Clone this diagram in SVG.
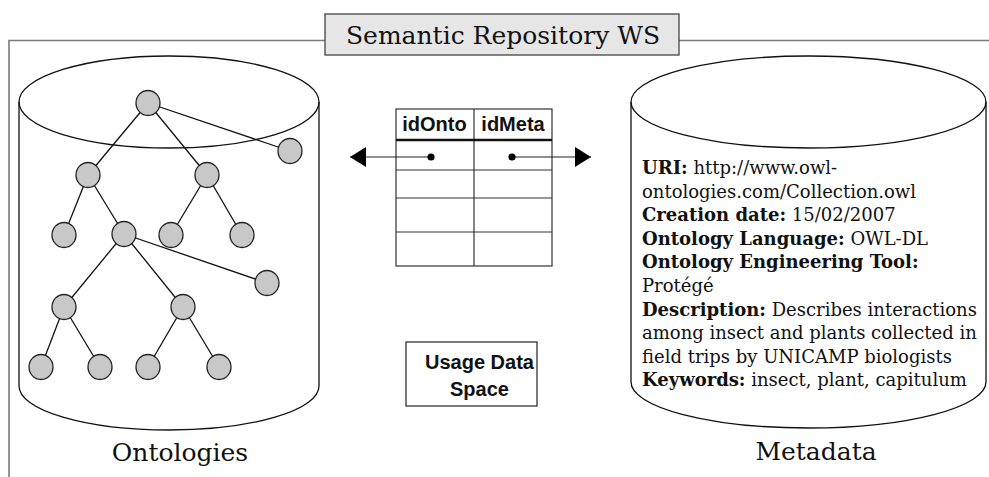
<svg xmlns="http://www.w3.org/2000/svg" width="989" height="477" viewBox="0 0 989 477">
  <style>
    .frame { fill: none; stroke: #7a7a7a; stroke-width: 1.6; }
    .cyl { fill: none; stroke: #111; stroke-width: 1.3; }
    .edge { stroke: #111; stroke-width: 1.3; }
    .tn { fill: #c8c8c8; stroke: #222; stroke-width: 1.3; }
    .serif { font-family: "DejaVu Serif", "Liberation Serif", serif; fill: #111; }
    .meta { font-family: "DejaVu Serif", "Liberation Serif", serif; font-size: 18px; fill: #111; }
    .meta .b { font-weight: bold; }
    .sans { font-family: "Liberation Sans", Arial, sans-serif; font-weight: bold; fill: #111; }
    .grid { stroke: #333; stroke-width: 1.2; }
    .link { stroke: #222; stroke-width: 1.2; }
  </style>
  <defs>
    <marker id="arrow" viewBox="0 0 16 20" refX="16" refY="10" markerWidth="16" markerHeight="20" markerUnits="userSpaceOnUse" orient="auto">
      <path d="M0,0 L16,10 L0,20 Z" fill="#000"/>
    </marker>
  </defs>

  <rect width="989" height="477" fill="#fff"/>

  <!-- outer boundary of the web service -->
  <g id="frame">
    <polyline class="frame" points="325,40.5 9,40.5 9,477"/>
    <line class="frame" x1="679" y1="40.5" x2="989" y2="40.5"/>
  </g>

  <!-- title tab -->
  <g id="title">
    <rect x="325" y="14" width="354" height="41" fill="#e6e6e6" stroke="#444" stroke-width="1.3"/>
    <text class="serif" x="503" y="43.5" font-size="25" text-anchor="middle">Semantic Repository WS</text>
  </g>

  <!-- ontology store -->
  <g id="ontologies">
    <ellipse class="cyl" cx="169" cy="102" rx="150" ry="46" fill="#fff"/>
    <path class="cyl" d="M19,102 V386 A150,44 0 0 0 319,386 V102"/>
    <text class="serif" x="180" y="461" font-size="25" text-anchor="middle">Ontologies</text>
    <g id="tree">
      <g class="edge">
        <line x1="148" y1="103" x2="290" y2="151"/>
        <line x1="148" y1="103" x2="88" y2="175"/>
        <line x1="148" y1="103" x2="207" y2="175"/>
        <line x1="88" y1="175" x2="64" y2="235"/>
        <line x1="88" y1="175" x2="124" y2="234"/>
        <line x1="207" y1="175" x2="171" y2="235"/>
        <line x1="207" y1="175" x2="242" y2="235"/>
        <line x1="124" y1="234" x2="267" y2="283"/>
        <line x1="124" y1="234" x2="64" y2="307"/>
        <line x1="124" y1="234" x2="183" y2="307"/>
        <line x1="64" y1="307" x2="41" y2="367"/>
        <line x1="64" y1="307" x2="100" y2="367"/>
        <line x1="183" y1="307" x2="148" y2="367"/>
        <line x1="183" y1="307" x2="219" y2="367"/>
      </g>
      <ellipse class="tn" cx="148" cy="103" rx="12" ry="12.5"/>
      <ellipse class="tn" cx="290" cy="151" rx="12" ry="12.5"/>
      <ellipse class="tn" cx="88" cy="175" rx="12" ry="12.5"/>
      <ellipse class="tn" cx="207" cy="175" rx="12" ry="12.5"/>
      <ellipse class="tn" cx="64" cy="235" rx="12" ry="12.5"/>
      <ellipse class="tn" cx="124" cy="234" rx="12" ry="12.5"/>
      <ellipse class="tn" cx="171" cy="235" rx="12" ry="12.5"/>
      <ellipse class="tn" cx="242" cy="235" rx="12" ry="12.5"/>
      <ellipse class="tn" cx="267" cy="283" rx="12" ry="12.5"/>
      <ellipse class="tn" cx="64" cy="307" rx="12" ry="12.5"/>
      <ellipse class="tn" cx="183" cy="307" rx="12" ry="12.5"/>
      <ellipse class="tn" cx="41" cy="367" rx="12" ry="12.5"/>
      <ellipse class="tn" cx="100" cy="367" rx="12" ry="12.5"/>
      <ellipse class="tn" cx="148" cy="367" rx="12" ry="12.5"/>
      <ellipse class="tn" cx="219" cy="367" rx="12" ry="12.5"/>
    </g>
  </g>

  <!-- link table -->
  <g id="link-table">
    <rect x="396" y="109" width="156" height="157" fill="#fff" stroke="#333" stroke-width="1.2"/>
    <line class="grid" x1="474" y1="109" x2="474" y2="266"/>
    <line x1="396" y1="140" x2="552" y2="140" stroke="#111" stroke-width="2.4"/>
    <line class="grid" x1="396" y1="170" x2="552" y2="170"/>
    <line class="grid" x1="396" y1="198" x2="552" y2="198"/>
    <line class="grid" x1="396" y1="232" x2="552" y2="232"/>
    <text class="sans" x="434.5" y="131" font-size="20" text-anchor="middle">idOnto</text>
    <text class="sans" x="513" y="131" font-size="20" text-anchor="middle">idMeta</text>
  </g>

  <!-- references from the table to the two stores -->
  <g id="connectors">
    <line class="link" x1="431" y1="157" x2="350" y2="157" marker-end="url(#arrow)"/>
    <circle cx="431" cy="157" r="3.6" fill="#000"/>
    <line class="link" x1="512" y1="157" x2="591" y2="157" marker-end="url(#arrow)"/>
    <circle cx="512" cy="157" r="3.6" fill="#000"/>
  </g>

  <!-- usage data -->
  <g id="usage-data">
    <rect x="406" y="342" width="131" height="64" fill="#fff" stroke="#333" stroke-width="1.3"/>
    <text class="sans" x="479.5" y="369" font-size="20" text-anchor="middle">Usage Data</text>
    <text class="sans" x="479.5" y="396" font-size="20" text-anchor="middle">Space</text>
  </g>

  <!-- metadata store -->
  <g id="metadata">
    <ellipse class="cyl" cx="808.5" cy="102" rx="177.5" ry="46" fill="#fff"/>
    <path class="cyl" d="M631,102 V382 A177.5,46 0 0 0 986,382 V102"/>
    <text class="serif" x="816" y="460" font-size="25" text-anchor="middle">Metadata</text>
    <text class="meta" x="642">
      <tspan x="642" y="174"><tspan class="b">URI:</tspan> http://www.owl-</tspan>
      <tspan x="642" y="197.6">ontologies.com/Collection.owl</tspan>
      <tspan x="642" y="221.2"><tspan class="b">Creation date:</tspan> 15/02/2007</tspan>
      <tspan x="642" y="244.8"><tspan class="b">Ontology Language:</tspan> OWL-DL</tspan>
      <tspan x="642" y="268.4"><tspan class="b">Ontology Engineering Tool:</tspan></tspan>
      <tspan x="642" y="292">Protégé</tspan>
      <tspan x="642" y="315.6"><tspan class="b">Description:</tspan> Describes interactions</tspan>
      <tspan x="642" y="339.2">among insect and plants collected in</tspan>
      <tspan x="642" y="362.8">field trips by UNICAMP biologists</tspan>
      <tspan x="642" y="386.4"><tspan class="b">Keywords:</tspan> insect, plant, capitulum</tspan>
    </text>
  </g>
</svg>
